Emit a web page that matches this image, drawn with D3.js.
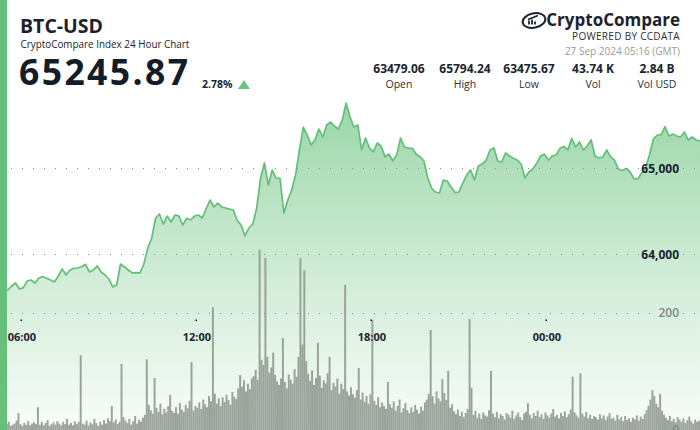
<!DOCTYPE html>
<html><head><meta charset="utf-8">
<script src="https://cdn.jsdelivr.net/npm/d3@7"></script>
<style>
html,body{margin:0;padding:0;background:#fff;}
svg{display:block;font-family:"Open Sans",sans-serif;}
</style>
</head><body>
<svg id="chart" width="700" height="430"></svg>
<script>
// ---------- DATA ----------
const startTime = "2024-09-26T05:16:00Z";
const endTime = "2024-09-27T05:16:00Z";
const priceStepMin = 8;
const prices = [
 63597,63590,63585,63631,63666,63597,63612,63690,63701,63666,
 63724,63740,63721,63701,63678,63748,63829,63759,63817,63837,
 63841,63856,63884,63794,63817,63864,63794,63759,63713,63620,
 63643,63887,63852,63817,63783,63788,63783,63887,64073,64186,
 64422,64469,64352,64445,64376,64457,64445,64341,64419,64399,
 64445,64457,64422,64527,64631,64550,64596,64550,64538,64527,
 64515,64393,64341,64213,64306,64352,64535,64887,65062,64806,
 64980,64887,64884,64480,64631,64748,64922,65213,65480,65387,
 65271,65329,65457,65364,65504,65538,65492,65457,65562,65759,
 65596,65480,65504,65213,65352,65236,65190,65294,65259,65135,
 65166,65085,65155,65352,65248,65236,65232,65166,65135,65085,
 64887,64767,64724,64713,64864,64852,64783,64719,64724,64829,
 64922,64980,64864,65027,65050,65091,65213,65236,65085,65073,
 65178,65143,65116,65096,65050,64887,64957,64992,65058,65143,
 65166,65096,65143,65155,65232,65254,65213,65349,65248,65306,
 65213,65259,65329,65143,65120,65131,65213,65135,65096,64992,
 64974,64998,64960,64880,64876,64945,65003,65155,65341,65387,
 65391,65484,65376,65399,65376,65364,65422,65329,65364,65329,
 65317];
const volumeStepMin = 4;
const volumes = [
 8,12,6,10,14,7,9,11,16,29,10,7,12,9,15,8,11,13,
 10,39,9,14,8,12,17,7,10,13,9,15,11,8,14,10,19,9,
 12,8,15,10,14,128,11,9,16,8,13,10,19,12,7,14,9,17,
 11,20,15,41,13,18,10,14,113,22,16,12,19,9,15,24,11,17,
 14,21,26,121,43,34,28,89,38,31,45,27,36,30,41,60,33,29,
 39,28,46,35,31,43,37,50,116,33,41,38,47,36,52,44,39,58,
 49,210,62,45,54,41,56,48,60,51,43,65,57,53,71,94,74,85,
 66,79,70,88,92,103,86,308,120,111,294,125,98,107,132,94,83,77,
 88,157,82,71,95,86,79,104,91,125,294,146,273,118,96,84,102,77,
 89,149,93,72,85,80,97,125,68,81,74,88,62,79,70,248,66,59,
 73,61,55,68,106,52,64,48,58,45,61,188,50,43,56,39,47,41,
 36,82,44,38,49,33,41,52,30,37,46,34,29,39,31,43,35,28,
 40,33,47,52,62,171,58,45,66,54,49,87,63,51,101,38,44,32,
 27,35,24,31,22,29,36,190,72,26,33,21,28,19,30,25,23,34,
 101,28,22,31,20,27,24,18,29,26,21,33,19,25,30,22,17,28,
 31,46,26,20,29,24,33,22,27,19,30,25,21,28,36,23,26,20,
 29,24,32,22,27,35,91,30,25,21,97,28,23,31,20,26,19,24,
 22,18,27,20,25,17,23,29,19,21,16,26,18,22,15,24,17,20,
 14,21,18,25,16,23,19,27,34,41,52,68,58,45,39,62,33,26,
 21,17,24,15,19,13,22,18,14,20,12,17,23,15,11,18,14,16];
const timeTicks = ["2024-09-26T06:00:00Z","2024-09-26T12:00:00Z","2024-09-26T18:00:00Z","2024-09-27T00:00:00Z"];
const priceTicks = [64000, 65000];
const volumeTicks = [0, 200];
const pairName = "BTC-USD";
const subtitle = "CryptoCompare Index 24 Hour Chart";
const lastPrice = "65245.87";
const changePct = "2.78%";
const brandName = "CryptoCompare";
const brandSub = "POWERED BY CCDATA";
const stamp = "27 Sep 2024 05:16 (GMT)";
const statValues = ["63479.06","65794.24","63475.67","43.74 K","2.84 B"];
const statLabels = ["Open","High","Low","Vol","Vol USD"];

// ---------- CHART ----------
const W = 700, H = 430;
const svg = d3.select("#chart");
const t0 = new Date(startTime), t1 = new Date(endTime);
const x = d3.scaleUtc().domain([t0, t1]).range([0, W]);
const yP = d3.scaleLinear().domain([64000, 65000]).range([254.3, 168.3]);
const yV = d3.scaleLinear().domain([0, 200]).range([430, 313]);
const MIN = 60000;
const priceData = prices.map((p, i) => ({t: new Date(+t0 + i * priceStepMin * MIN), p}));
const volData = volumes.map((v, i) => ({t: new Date(+t0 + (i + 0.5) * volumeStepMin * MIN), v}));
const barW = x(new Date(+t0 + volumeStepMin * MIN)) - x(t0);

const defs = svg.append("defs");
const grad = defs.append("linearGradient").attr("id", "areaGrad")
  .attr("gradientUnits", "userSpaceOnUse").attr("x1", 0).attr("x2", 0).attr("y1", 100).attr("y2", 430);
grad.append("stop").attr("offset", 0).attr("stop-color", "#5cbd72").attr("stop-opacity", 0.62);
grad.append("stop").attr("offset", 0.5).attr("stop-color", "#5cbd72").attr("stop-opacity", 0.3);
grad.append("stop").attr("offset", 1).attr("stop-color", "#5cbd72").attr("stop-opacity", 0.04);

// area
svg.append("path").datum(priceData)
  .attr("d", d3.area().x(d => x(d.t)).y0(H).y1(d => yP(d.p)))
  .attr("fill", "url(#areaGrad)");

// grid lines (dotted)
function dotted(yv, gapStart) {
  const g = svg.append("g");
  [[11, gapStart], [683, 697]].forEach(([a, b]) => {
    g.append("line").attr("x1", a).attr("x2", b).attr("y1", yv).attr("y2", yv)
      .attr("stroke", "#8a8a8a").attr("stroke-width", 1).attr("stroke-dasharray", "1,10");
  });
}
priceTicks.forEach(v => dotted(Math.round(yP(v)) + 0.5, 640));
dotted(Math.round(yV(200)) + 0.5, 657);

// volume bars
svg.append("g").selectAll("rect").data(volData).join("rect")
  .attr("x", d => x(d.t) - barW / 2).attr("width", barW)
  .attr("y", d => yV(d.v)).attr("height", d => yV(0) - yV(d.v))
  .attr("fill", "#8e968e").attr("fill-opacity", 0.88);

// price line
svg.append("path").datum(priceData)
  .attr("d", d3.line().x(d => x(d.t)).y(d => yP(d.p)))
  .attr("fill", "none").attr("stroke", "#62bf78").attr("stroke-width", 1.7)
  .attr("stroke-linejoin", "round");

// price axis labels
const pAxis = svg.append("g").attr("transform", "translate(683,0)")
  .call(d3.axisLeft(yP).tickValues(priceTicks).tickSize(0).tickPadding(4).tickFormat(d3.format(",")));
pAxis.select(".domain").remove();
pAxis.selectAll("text").attr("font-family", "Open Sans").attr("font-size", 12).attr("font-weight", 700).attr("fill", "#1b2330");

// volume axis labels
const vAxis = svg.append("g").attr("transform", "translate(683,0)")
  .call(d3.axisLeft(yV).tickValues(volumeTicks).tickSize(0).tickPadding(4).tickFormat(d3.format(",")));
vAxis.select(".domain").remove();
vAxis.selectAll("text").attr("font-family", "Open Sans").attr("font-size", 12).attr("font-weight", 600).attr("fill", "#7f887f");

// time axis
const tDates = timeTicks.map(s => new Date(s));
const tAxis = svg.append("g").attr("transform", "translate(0,320)")
  .call(d3.axisBottom(x).tickValues(tDates).tickSize(0).tickPadding(13).tickFormat(d3.utcFormat("%H:%M")));
tAxis.select(".domain").remove();
tAxis.selectAll("text").attr("font-family", "Open Sans").attr("font-size", 11).attr("font-weight", 700).attr("fill", "#1b2330");
svg.append("g").selectAll("rect").data(tDates).join("rect")
  .attr("x", d => Math.round(x(d)) - 0.5).attr("y", 319.5).attr("width", 1.5).attr("height", 1.5).attr("fill", "#111");

// left accent bar
svg.append("rect").attr("x", 0).attr("y", 0).attr("width", 7).attr("height", H).attr("fill", "#66c079");

// ---------- HEADER ----------
svg.append("text").attr("x", 20).attr("y", 33).text(pairName)
  .attr("font-size", 19.5).attr("font-weight", 700).attr("fill", "#1b2330");
svg.append("text").attr("x", 20.5).attr("y", 47.5).text(subtitle)
  .attr("font-size", 9.9).attr("fill", "#1b2330");
svg.append("text").attr("x", 19).attr("y", 85).text(lastPrice)
  .attr("font-size", 35.5).attr("font-weight", 700).attr("letter-spacing", 2.4).attr("fill", "#131c29");
svg.append("text").attr("x", 202).attr("y", 87.5).text(changePct)
  .attr("font-size", 10.5).attr("font-weight", 700).attr("fill", "#1b2330");
svg.append("path").attr("d", "M238,89 L244,80 L250,89 Z").attr("fill", "#6cc481");

// brand
svg.append("text").attr("x", 680).attr("y", 26).attr("text-anchor", "end").text(brandName)
  .attr("font-size", 17).attr("font-weight", 700).attr("fill", "#1b2330");
const logo = svg.append("g").attr("transform", "translate(534,20.5)");
logo.append("ellipse").attr("rx", 11.5).attr("ry", 7.2).attr("transform", "rotate(-12)")
  .attr("fill", "none").attr("stroke", "#1b2330").attr("stroke-width", 2);
logo.append("path").attr("d", "M-5,4 L-5,0 M-2,4 L-2,-1 M1,4 L1,1 M-6,-1 L4,-5")
  .attr("stroke", "#1b2330").attr("stroke-width", 1.8).attr("fill", "none");
svg.append("text").attr("x", 680).attr("y", 39.5).attr("text-anchor", "end").text(brandSub)
  .attr("font-size", 10).attr("font-weight", 500).attr("letter-spacing", 0.3).attr("fill", "#2a2f36");
svg.append("text").attr("x", 680).attr("y", 54.5).attr("text-anchor", "end").text(stamp)
  .attr("font-size", 10).attr("fill", "#9a9a9a");

const statX = [399, 465, 529, 593, 657];
const st = svg.append("g");
st.selectAll("text.v").data(statValues).join("text").attr("class", "v")
  .attr("x", (d, i) => statX[i]).attr("y", 72.5).attr("text-anchor", "middle").text(d => d)
  .attr("font-size", 12).attr("font-weight", 700).attr("fill", "#1b2330");
st.selectAll("text.l").data(statLabels).join("text").attr("class", "l")
  .attr("x", (d, i) => statX[i]).attr("y", 87.5).attr("text-anchor", "middle").text(d => d)
  .attr("font-size", 10.5).attr("fill", "#2a2f36");
</script>
</body></html>
